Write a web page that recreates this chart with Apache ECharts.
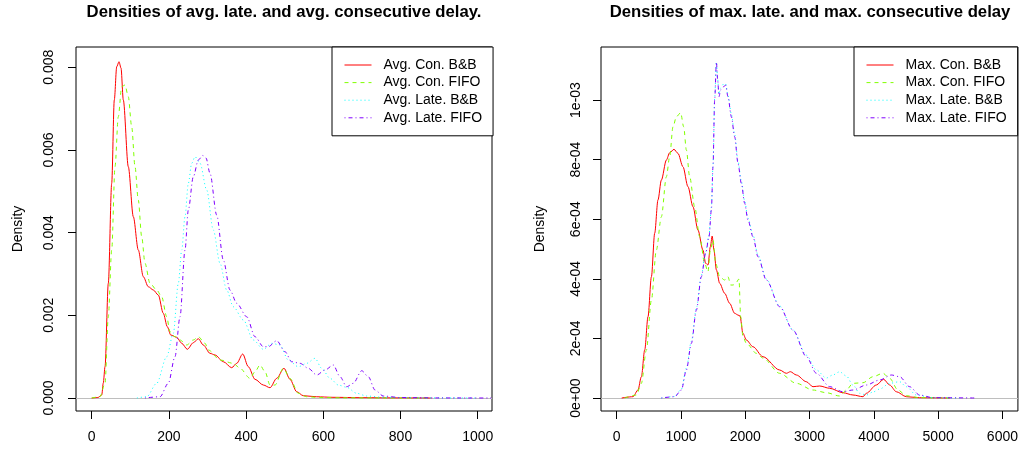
<!DOCTYPE html>
<html>
<head>
<meta charset="utf-8">
<script src="https://cdn.jsdelivr.net/npm/echarts@6/dist/echarts.min.js"></script>
<style>
  html, body { margin: 0; padding: 0; background: #fff; }
  #chart { width: 1021px; height: 452px; }
</style>
</head>
<body>
<div id="chart"></div>
<script>
// ---- Left panel: average delays (density estimates) ----
const avgConBB_x = [0,16,26,30,34.5,43,51.8,58.5,64.8,70.7,75.9,81.9,94.8,107.8,120.7,133.7,146.6,159.6,172.5,185.5,195.9,204.7,220.2,233.2,247.7,263.2,276.2,289.1,306.5,319.4,340.9,362.7,375.7,391.2,405.7,423.1,444.6,461.9,479.3,498.2,513.7,531.1,548.2,582.9,625,700,800,880];
const avgConBB_y = [0,0.000012,0.000073,0.000363,0.000757,0.002774,0.005192,0.007207,0.008012,0.008133,0.007981,0.007207,0.005594,0.004385,0.003579,0.002934,0.002692,0.002612,0.002491,0.002048,0.001724,0.001524,0.001468,0.001323,0.001178,0.001337,0.001434,0.001282,0.001081,0.00104,0.000878,0.000733,0.000839,0.001064,0.000757,0.000452,0.000314,0.000249,0.000476,0.000718,0.000452,0.000152,0.000056,0.00003,0.000017,0.000008,0.000003,0];

const avgConFIFO_x = [0,21.5,34.5,43,51.8,60.4,68.9,77.7,86.3,94.8,103.6,112.2,120.7,129.5,138.1,151,168.4,181.3,194.3,202.8,215.8,228.8,246.1,263.2,276.2,293.5,302.1,332.4,366.8,384.2,410.1,423.1,436,449,461.9,474.9,496.4,513.7,535.2,557,591.5,650,750,880];
const avgConFIFO_y = [0,0.000031,0.000356,0.001966,0.003579,0.005594,0.006803,0.007529,0.00757,0.007287,0.006561,0.005594,0.004788,0.003901,0.003258,0.002774,0.002612,0.00245,0.001966,0.001603,0.001482,0.001403,0.001282,0.001403,0.001482,0.001323,0.001161,0.000919,0.000839,0.000718,0.000476,0.000636,0.000798,0.000636,0.000314,0.000314,0.000718,0.000476,0.000114,0.000031,0.000012,0.000005,0.000002,0];

const avgLateBB_x = [117,142.5,168.4,194.3,211.4,224.4,233.2,241.7,250.3,259.1,267.6,280.6,297.9,315,332.4,349.7,366.8,392.8,418.7,444.6,466.3,487.8,509.3,535.2,557,578.5,595.9,617.4,638.9,660.6,686.5,712.4,755.5,850,1000];
const avgLateBB_y = [0,0.000031,0.000356,0.000999,0.001565,0.002774,0.003579,0.004385,0.005192,0.005676,0.005836,0.005676,0.00503,0.004063,0.003258,0.002612,0.002208,0.001886,0.001403,0.001178,0.001323,0.001282,0.000919,0.000757,0.000839,0.00096,0.000718,0.000476,0.000314,0.000259,0.000114,0.000048,0.000017,0.000003,0];

const avgLateFIFO_x = [138,177,198.4,215.8,228.8,241.7,250.3,263.2,276.2,287.6,296.1,306.5,323.8,340.9,358.3,375.7,401.6,423.1,444.6,457.5,479.3,500.8,518.1,539.6,561.2,582.9,604.4,625.9,643.3,660.6,677.7,699.5,716.6,734,755.5,798.7,900,1035];
const avgLateFIFO_y = [0,0.000031,0.000356,0.000999,0.001966,0.003579,0.004547,0.005352,0.005756,0.005865,0.005804,0.005434,0.004426,0.003337,0.002612,0.00229,0.001966,0.001482,0.001241,0.001241,0.001386,0.00112,0.000878,0.000839,0.000718,0.000556,0.000677,0.000798,0.000515,0.000273,0.000356,0.00066,0.000515,0.000193,0.000048,0.000012,0.000002,0];

// ---- Right panel: maximum delays (density estimates) ----
const maxConBB_x = [78,254,331,384,436,487,540,591,642,695,773,824,891,953,1031,1109,1187,1264,1342,1384,1420,1457,1485,1513,1551,1602,1680,1757,1835,1887,1918,1964,2017,2120,2275,2535,2639,2701,2795,2950,3053,3157,3313,3519,3675,3831,3883,4039,4152,4246,4350,4505,4712,5179];
const maxConBB_y = [0,4.4e-6,2.68e-5,7.15e-5,1.611e-4,2.728e-4,4.07e-4,5.527e-4,6.644e-4,7.315e-4,7.987e-4,8.232e-4,8.346e-4,8.211e-4,7.762e-4,7.091e-4,6.419e-4,5.638e-4,4.966e-4,4.52e-4,4.463e-4,5.077e-4,5.436e-4,4.966e-4,4.295e-4,3.849e-4,3.513e-4,3.178e-4,2.842e-4,2.785e-4,2.752e-4,2.171e-4,1.946e-4,1.721e-4,1.386e-4,9.4e-5,8.29e-5,8.83e-5,7.72e-5,5.47e-5,3.79e-5,4.03e-5,3.26e-5,1.78e-5,1.01e-5,4.4e-6,1.58e-5,4.36e-5,6.28e-5,4.36e-5,2.11e-5,4.4e-6,1e-6,0];

const maxConFIFO_x = [124,306,384,462,540,617,695,773,824,876,929,995,1042,1084,1135,1213,1291,1369,1420,1457,1498,1540,1602,1680,1731,1773,1809,1851,1902,1929,1964,2017,2173,2275,2535,2795,3053,3261,3468,3572,3675,3831,3986,4142,4246,4375,4505,4712,5179];
const maxConFIFO_y = [0,1.0e-5,4.93e-5,1.611e-4,3.289e-4,4.966e-4,6.084e-4,7.426e-4,8.097e-4,9.104e-4,9.44e-4,9.574e-4,9.104e-4,8.322e-4,7.426e-4,6.419e-4,5.413e-4,4.52e-4,4.238e-4,4.966e-4,5.302e-4,4.52e-4,4.07e-4,3.96e-4,4.07e-4,3.792e-4,3.792e-4,3.849e-4,3.993e-4,2.728e-4,2.057e-4,1.836e-4,1.5e-4,1.342e-4,8.29e-5,4.93e-5,2.68e-5,1.78e-5,6.7e-6,2.68e-5,4.93e-5,5.13e-5,7.15e-5,8.29e-5,6.61e-5,2.68e-5,7.7e-6,1e-6,0];

const maxLateBB_x = [695,902,1006,1084,1162,1240,1317,1384,1436,1473,1498,1524,1551,1571,1591,1617,1664,1695,1731,1784,1835,1887,1939,1991,2042,2120,2198,2328,2535,2742,2950,3106,3261,3359,3468,3572,3675,3779,3883,3986,4090,4246,4401,4505,4661,4919,5334];
const maxLateBB_y = [0,5e-6,3.0e-5,1.0e-4,1.91e-4,3.02e-4,4.13e-4,4.9e-4,5.47e-4,6.41e-4,7.82e-4,1.007e-3,1.1275e-3,1.07e-3,1.02e-3,1.04e-3,1.054e-3,1.054e-3,1.017e-3,9.53e-4,8.86e-4,7.95e-4,7.28e-4,6.61e-4,6.04e-4,5.47e-4,4.8e-4,3.99e-4,3.09e-4,2.28e-4,1.44e-4,9.4e-5,6.7e-5,7.7e-5,8.8e-5,7.4e-5,4.36e-5,1.58e-5,1.0e-5,2.0e-5,3.0e-5,4.93e-5,5.47e-5,3.79e-5,1.0e-5,1e-6,0];

const maxLateFIFO_x = [695,902,1006,1084,1162,1240,1317,1384,1436,1473,1498,1524,1551,1571,1591,1617,1664,1695,1731,1784,1835,1887,1939,1991,2042,2120,2198,2328,2535,2742,2950,3106,3313,3519,3675,3883,4090,4272,4401,4557,4712,4919,5594];
const maxLateFIFO_y = [0,4.4e-6,2.68e-5,9.4e-5,1.836e-4,2.953e-4,4.07e-4,4.856e-4,5.413e-4,6.309e-4,7.762e-4,1.0e-3,1.1275e-3,1.067e-3,1.011e-3,1.034e-3,1.045e-3,1.05e-3,1.011e-3,9.44e-4,8.768e-4,7.876e-4,7.205e-4,6.533e-4,5.973e-4,5.413e-4,4.742e-4,3.96e-4,3.064e-4,2.28e-4,1.39e-4,8.3e-5,3.8e-5,2.1e-5,2.68e-5,4.36e-5,6.04e-5,7.72e-5,7.15e-5,3.79e-5,1.0e-5,1e-6,0];

// ---- Names, titles and tick labels ----
const leftNames = ['Avg. Con. B&B', 'Avg. Con. FIFO', 'Avg. Late. B&B', 'Avg. Late. FIFO'];
const rightNames = ['Max. Con. B&B', 'Max. Con. FIFO', 'Max. Late. B&B', 'Max. Late. FIFO'];
const titles = ['Densities of avg. late. and avg. consecutive delay.', 'Densities of max. late. and max. consecutive delay'];
const leftXTicks = [0, 200, 400, 600, 800, 1000];
const leftXLabels = ['0', '200', '400', '600', '800', '1000'];
const rightXTicks = [0, 1000, 2000, 3000, 4000, 5000, 6000];
const rightXLabels = ['0', '1000', '2000', '3000', '4000', '5000', '6000'];
const leftYTicks = [0, 0.002, 0.004, 0.006, 0.008];
const leftYLabels = ['0.000', '0.002', '0.004', '0.006', '0.008'];
const rightYTicks = [0, 2e-4, 4e-4, 6e-4, 8e-4, 1e-3];
const rightYLabels = ['0e+00', '2e-04', '4e-04', '6e-04', '8e-04', '1e-03'];

const FONT = '"Liberation Sans", Arial, Helvetica, sans-serif';
const colors = ['#FF0000', '#80FF00', '#00FFFF', '#8000FF'];
const dashes = ['solid', [4, 4], [1, 3], [1, 3, 4, 3]];

function pairs(xs, ys) { return xs.map((x, i) => [x, ys[i]]); }

function labelFor(ticks, labels) {
  const step = Math.abs(ticks[1] - ticks[0]);
  return v => {
    for (let i = 0; i < ticks.length; i++) {
      if (Math.abs(ticks[i] - v) <= step * 1e-6) return labels[i];
    }
    return '';
  };
}

function xAxis(idx, min, max, ticks, labels) {
  return {
    type: 'value', gridIndex: idx, min: min, max: max,
    axisLine: { show: false, onZero: false },
    splitLine: { show: false },
    axisTick: { show: true, length: 8, inside: false, customValues: ticks, lineStyle: { color: '#000', width: 1 } },
    axisLabel: { customValues: ticks, margin: 19, color: '#000', fontSize: 14, fontFamily: FONT,
                 formatter: labelFor(ticks, labels) }
  };
}

function yAxis(idx, min, max, ticks, labels, margin, gap) {
  return {
    type: 'value', gridIndex: idx, min: min, max: max,
    name: 'Density', nameLocation: 'middle', nameRotate: 90, nameGap: gap,
    nameTextStyle: { color: '#000', fontSize: 14, fontFamily: FONT },
    axisLine: { show: false, onZero: false },
    splitLine: { show: false },
    axisTick: { show: true, length: 8, inside: false, customValues: ticks, lineStyle: { color: '#000', width: 1 } },
    axisLabel: { customValues: ticks, rotate: 90, margin: margin, color: '#000', fontSize: 14, fontFamily: FONT,
                 formatter: labelFor(ticks, labels) }
  };
}

function line(name, k, axis, data, withBase) {
  const s = {
    name: name, type: 'line', xAxisIndex: axis, yAxisIndex: axis,
    data: data, symbol: 'none', showSymbol: false,
    smooth: 0.3, smoothMonotone: 'x',
    lineStyle: { color: colors[k], width: 1, type: dashes[k] },
    itemStyle: { color: colors[k] },
    emphasis: { disabled: true },
    z: 3 + k
  };
  if (withBase) {
    s.markLine = {
      silent: true, symbol: ['none', 'none'], label: { show: false },
      lineStyle: { color: '#BEBEBE', width: 1, type: 'solid' },
      data: [{ yAxis: 0 }], z: 1
    };
  }
  return s;
}

function legend(names, left) {
  return {
    data: names, left: left, top: 47, orient: 'vertical',
    itemWidth: 27, itemHeight: 14, itemGap: 1.6,
    padding: [10, 11, 10, 12],
    borderColor: '#000', borderWidth: 1, backgroundColor: '#fff',
    selectedMode: false,
    itemStyle: { opacity: 0 },
    lineStyle: { width: 1 },
    textStyle: { fontSize: 14, lineHeight: 16, color: '#000', fontFamily: FONT, padding: [0, 0, 0, 7] }
  };
}

const chart = echarts.init(document.getElementById('chart'), null, { renderer: 'canvas' });
chart.setOption({
  animation: false,
  backgroundColor: '#fff',
  textStyle: { fontFamily: FONT },
  title: [
    { text: titles[0], left: 284, top: 4, textAlign: 'center', padding: 0,
      textStyle: { fontSize: 16.7, fontWeight: 'bold', color: '#000', fontFamily: FONT } },
    { text: titles[1], left: 810, top: 4, textAlign: 'center', padding: 0,
      textStyle: { fontSize: 16.7, fontWeight: 'bold', color: '#000', fontFamily: FONT } }
  ],
  grid: [
    { left: 76, top: 47, width: 416, height: 364, show: true, borderColor: '#000', borderWidth: 1, backgroundColor: 'transparent' },
    { left: 601, top: 47, width: 417, height: 364, show: true, borderColor: '#000', borderWidth: 1, backgroundColor: 'transparent' }
  ],
  xAxis: [
    xAxis(0, -40.7, 1037, leftXTicks, leftXLabels),
    xAxis(1, -244, 6241, rightXTicks, rightXLabels)
  ],
  yAxis: [
    yAxis(0, -0.000314, 0.008489, leftYTicks, leftYLabels, 20, 51),
    yAxis(1, -4.36e-5, 1.178e-3, rightYTicks, rightYLabels, 18, 54)
  ],
  legend: [legend(leftNames, 332), legend(rightNames, 854)],
  series: [
    line(leftNames[0], 0, 0, pairs(avgConBB_x, avgConBB_y), true),
    line(leftNames[1], 1, 0, pairs(avgConFIFO_x, avgConFIFO_y)),
    line(leftNames[2], 2, 0, pairs(avgLateBB_x, avgLateBB_y)),
    line(leftNames[3], 3, 0, pairs(avgLateFIFO_x, avgLateFIFO_y)),
    line(rightNames[0], 0, 1, pairs(maxConBB_x, maxConBB_y), true),
    line(rightNames[1], 1, 1, pairs(maxConFIFO_x, maxConFIFO_y)),
    line(rightNames[2], 2, 1, pairs(maxLateBB_x, maxLateBB_y)),
    line(rightNames[3], 3, 1, pairs(maxLateFIFO_x, maxLateFIFO_y))
  ]
});
</script>
</body>
</html>
